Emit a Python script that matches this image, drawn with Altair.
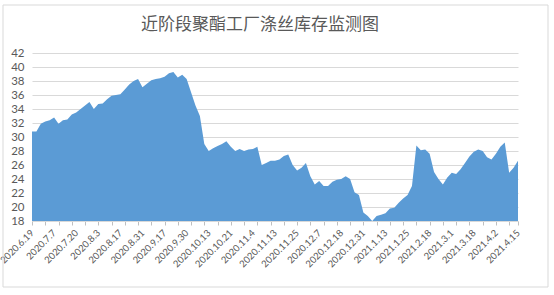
import altair as alt
import pandas as pd

title_text = "近阶段聚酯工厂涤丝库存监测图"

date_labels = [
    "2020.6.19", "2020.7.7", "2020.7.20", "2020.8.3", "2020.8.17", "2020.8.31",
    "2020.9.17", "2020.9.30", "2020.10.13", "2020.10.21", "2020.11.4", "2020.11.13",
    "2020.11.25", "2020.12.7", "2020.12.18", "2020.12.31", "2021.1.13", "2021.1.25",
    "2021.2.18", "2021.3.1", "2021.3.18", "2021.4.2", "2021.4.15",
]

inventory_days = [
    30.8, 30.8, 31.9, 32.2, 32.4, 32.8, 31.9, 32.4, 32.5, 33.2,
    33.5, 34.0, 34.5, 35.0, 34.0, 34.7, 34.8, 35.4, 35.9, 36.0,
    36.1, 36.8, 37.5, 38.0, 38.3, 37.1, 37.6, 38.1, 38.3, 38.4,
    38.6, 39.1, 39.3, 38.5, 38.9, 38.3, 36.4, 34.5, 33.0, 29.0,
    28.0, 28.4, 28.7, 29.0, 29.4, 28.6, 28.0, 28.3, 28.0, 28.2,
    28.3, 28.6, 26.0, 26.3, 26.6, 26.6, 26.8, 27.3, 27.5, 26.0,
    25.2, 25.6, 26.3, 24.4, 23.2, 23.7, 23.0, 23.0, 23.6, 23.9,
    24.0, 24.4, 24.0, 22.1, 21.7, 19.2, 18.7, 18.0, 18.7, 18.9,
    19.1, 19.8, 19.9, 20.6, 21.2, 21.7, 23.0, 28.8, 28.1, 28.2,
    27.6, 25.0, 24.0, 23.2, 24.2, 24.9, 24.7, 25.4, 26.3, 27.2,
    27.9, 28.2, 28.0, 27.1, 26.8, 27.6, 28.6, 29.2, 24.9, 25.6,
    26.6,
]

y_ticks = list(range(18, 43, 2))

n = len(inventory_days)
label_step = 5
tick_step = 3
last = n - 1

df = pd.DataFrame({"idx": list(range(n)), "value": inventory_days})

axis_values = sorted(set(range(0, n, tick_step)) | set(range(0, n, label_step)) | {last})
labels_js = "[" + ",".join("'" + s + "'" for s in date_labels) + "]"
label_expr = f"datum.value % {label_step} === 0 ? {labels_js}[datum.value / {label_step}] : ''"

grey_text = "#595959"
grid_grey = "#d9d9d9"

x_axis = alt.Axis(
    values=axis_values,
    labelExpr=label_expr,
    labelAngle=-45,
    labelAlign="right",
    labelBaseline="middle",
    labelOverlap=False,
    labelFontSize=9.5,
    labelColor=grey_text,
    labelFont="Lato",
    labelPadding=6,
    tickSize=4,
    tickColor="#bfbfbf",
    tickOpacity={"condition": {"test": f"datum.value % {tick_step} === 0 || datum.value === {last}", "value": 1}, "value": 0},
    domainColor=grid_grey,
    grid=False,
    title=None,
)

y_axis = alt.Axis(
    values=y_ticks,
    labelFontSize=11.5,
    labelColor=grey_text,
    labelFont="Lato",
    labelPadding=8,
    ticks=False,
    domain=False,
    grid=True,
    gridColor=grid_grey,
    title=None,
)

area = alt.Chart(df).mark_area(color="#5b9bd5", opacity=1).encode(
    x=alt.X("idx:Q", scale=alt.Scale(domain=[0, last], nice=False, zero=False), axis=x_axis),
    y=alt.Y("value:Q", scale=alt.Scale(domain=[18, 42], nice=False, zero=False), axis=y_axis),
    y2=alt.datum(18),
)

frame = alt.Chart(pd.DataFrame({"f": [0]})).mark_rect(
    fill=None, stroke=grid_grey, strokeWidth=1
).encode(
    x=alt.value(-29), x2=alt.value(516), y=alt.value(-48), y2=alt.value(234)
)

title = alt.Chart(pd.DataFrame({"t": [title_text]})).mark_text(
    font="Noto Sans CJK SC",
    fontSize=17,
    color=grey_text,
    align="center",
    baseline="middle",
).encode(
    text="t:N", x=alt.value(228), y=alt.value(-28)
)

chart = alt.layer(area, frame, title).properties(
    width=486,
    height=168,
    autosize=alt.AutoSizeParams(type="none"),
    padding={"left": 32, "top": 53, "right": 36, "bottom": 74},
).configure_view(stroke=None)

chart.save("out.html", embed_options={"renderer": "svg", "actions": False})
